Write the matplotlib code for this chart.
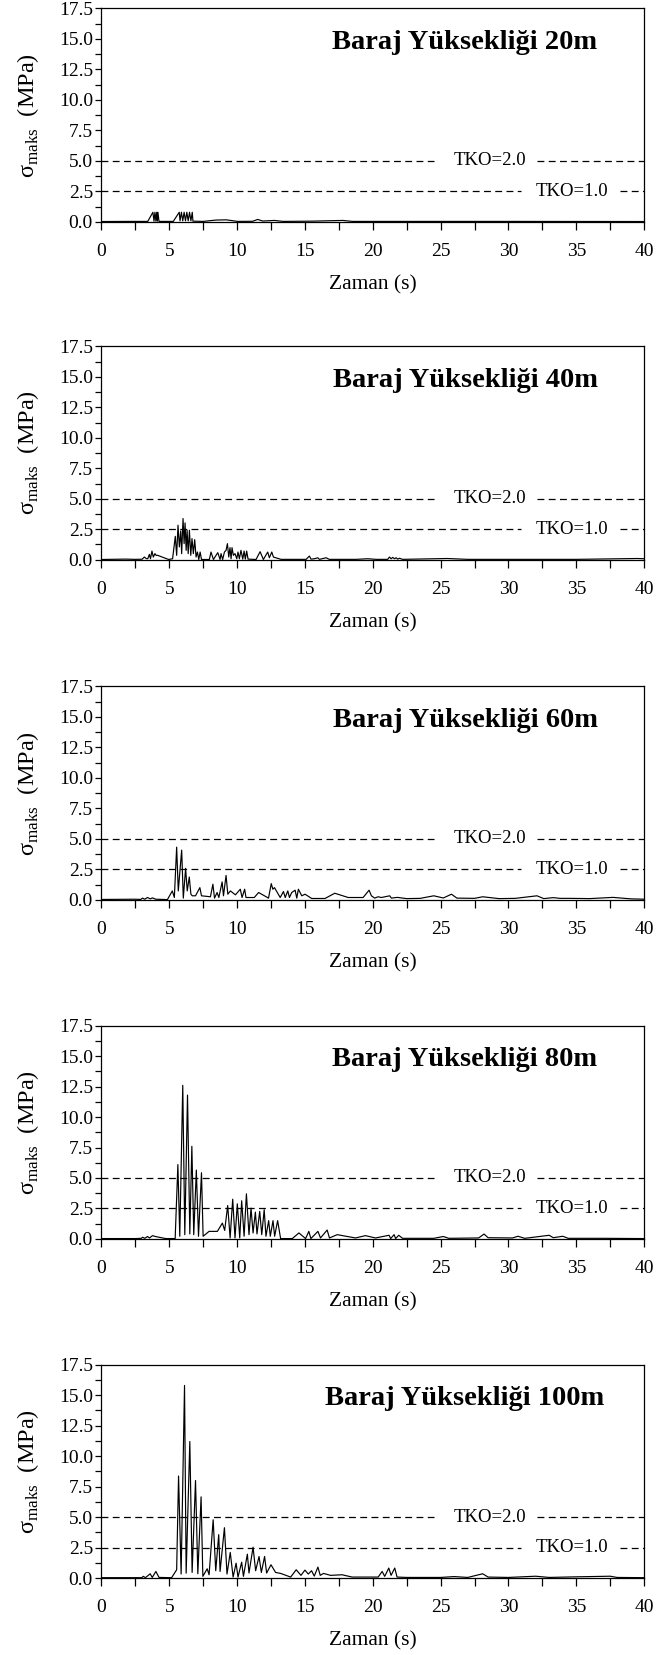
import matplotlib
matplotlib.use("Agg")
import matplotlib.pyplot as plt
from matplotlib.ticker import MultipleLocator

plt.rcParams['font.family'] = ['Liberation Serif', 'DejaVu Serif']
plt.rcParams['mathtext.fontset'] = 'custom'
plt.rcParams['mathtext.rm'] = 'Liberation Serif'

# dam heights for the five panels
heights = [20, 40, 60, 80, 100]

# time (s) / max stress (MPa) series, one pair per dam height
t20 = [0, 2, 3.42, 3.8, 3.88, 3.95, 4.02, 4.08, 4.13, 4.17, 4.25, 5.3, 5.74, 5.8, 5.9, 6.0,
       6.1, 6.2, 6.3, 6.4, 6.5, 6.6, 6.7, 6.75, 7.5, 8.45, 9.2, 10.05, 11.15, 11.52, 11.9,
       12.75, 13.4, 15.5, 17.8, 18.5, 22, 30, 40]
s20 = [0.02, 0.03, 0.03, 0.78, 0.05, 0.78, 0.05, 0.78, 0.05, 0.78, 0.03, 0.03, 0.78, 0.08,
       0.78, 0.08, 0.78, 0.08, 0.78, 0.08, 0.78, 0.08, 0.78, 0.05, 0.03, 0.14, 0.16, 0.03,
       0.04, 0.19, 0.06, 0.11, 0.03, 0.05, 0.11, 0.03, 0.03, 0.03, 0.02]

t40 = [0, 1.8, 2.5, 3.0, 3.17, 3.3, 3.42, 3.54, 3.62, 3.73, 3.83, 3.95, 4.03, 4.15, 4.96,
       5.25, 5.45, 5.55, 5.65, 5.75, 5.85, 5.92, 6.02, 6.1, 6.17, 6.25, 6.32, 6.4, 6.49,
       6.59, 6.68, 6.78, 6.88, 6.98, 7.08, 7.18, 7.28, 7.38, 7.96, 8.08, 8.26, 8.58, 8.75,
       8.82, 8.94, 9.07, 9.19, 9.29, 9.39, 9.48, 9.56, 9.63, 9.73, 9.85, 9.98, 10.07, 10.17,
       10.29, 10.42, 10.52, 10.61, 10.71, 10.81, 11.4, 11.7, 11.94, 12.26, 12.38, 12.56,
       12.68, 13.24, 15.09, 15.33, 15.45, 15.7, 15.95, 16.07, 16.56, 16.8, 18.77, 19.63,
       20.25, 21.1, 21.23, 21.35, 21.47, 21.6, 21.72, 21.84, 21.97, 22.2, 25.5, 27, 30,
       35, 39.5, 40]
s40 = [0.02, 0.05, 0.03, 0.04, 0.22, 0.1, 0.08, 0.44, 0.08, 0.71, 0.22, 0.5, 0.36, 0.36,
       0.02, 0.08, 1.92, 0.36, 2.83, 1.05, 2.36, 0.5, 3.38, 1.32, 3.02, 0.77, 2.42, 0.5,
       2.42, 0.36, 1.73, 0.5, 1.65, 0.22, 0.63, 0.02, 0.63, 0.02, 0.02, 0.63, 0.02, 0.58,
       0.02, 0.5, 0.02, 0.63, 0.77, 1.32, 0.22, 0.99, 0.08, 0.99, 0.36, 0.5, 0.08, 0.63,
       0.08, 0.77, 0.05, 0.71, 0.05, 0.71, 0.05, 0.02, 0.66, 0.02, 0.63, 0.16, 0.63, 0.22,
       0.03, 0.03, 0.3, 0.05, 0.08, 0.16, 0.03, 0.16, 0.03, 0.03, 0.08, 0.03, 0.03, 0.22,
       0.08, 0.19, 0.08, 0.16, 0.05, 0.12, 0.03, 0.1, 0.03, 0.03, 0.03, 0.1, 0.08]

t60 = [0, 2.5, 2.9, 3.03, 3.2, 3.4, 3.6, 3.77, 4.0, 4.87, 5.23, 5.38, 5.55, 5.67, 5.92,
       6.04, 6.21, 6.33, 6.48, 6.6, 6.7, 6.94, 7.26, 7.38, 8.04, 8.22, 8.34, 8.53, 8.66,
       8.9, 9.0, 9.19, 9.32, 9.51, 9.88, 10.24, 10.37, 10.56, 10.66, 11.27, 11.59, 12.32,
       12.52, 12.64, 12.76, 13.18, 13.42, 13.55, 13.74, 13.86, 14.03, 14.28, 14.4, 14.52,
       14.77, 15.01, 15.5, 16.48, 17.2, 18.19, 19.29, 19.73, 19.9, 20.14, 20.39, 20.64,
       21.25, 21.37, 21.8, 22.5, 23.5, 24.5, 25.2, 25.8, 26.2, 27.5, 28.1, 29.3, 30.5,
       32.1, 32.6, 33.3, 33.8, 34.5, 36, 37.7, 39, 40]
s60 = [0.03, 0.05, 0.03, 0.14, 0.05, 0.19, 0.08, 0.16, 0.05, 0.02, 0.73, 0.19, 4.32, 0.73,
       4.08, 0.14, 2.58, 0.73, 1.87, 0.46, 0.33, 0.33, 1.0, 0.33, 0.25, 1.28, 0.14, 0.6,
       0.19, 1.47, 0.33, 2.0, 0.46, 0.73, 0.41, 0.87, 0.19, 0.87, 0.19, 0.19, 0.6, 0.14,
       1.33, 0.87, 1.0, 0.19, 0.68, 0.19, 0.73, 0.19, 0.6, 0.79, 0.14, 0.87, 0.33, 0.46,
       0.11, 0.11, 0.54, 0.19, 0.19, 0.79, 0.33, 0.14, 0.25, 0.19, 0.33, 0.14, 0.2, 0.1,
       0.12, 0.33, 0.15, 0.46, 0.14, 0.12, 0.25, 0.1, 0.12, 0.33, 0.1, 0.18, 0.12, 0.12,
       0.1, 0.2, 0.08, 0.05]

t80 = [0, 2.5, 2.95, 3.04, 3.2, 3.4, 3.55, 3.77, 4.02, 4.75, 5.44, 5.64, 5.78, 6.0, 6.15,
       6.35, 6.52, 6.67, 6.81, 7.0, 7.16, 7.38, 7.5, 7.94, 8.55, 8.92, 9.09, 9.31, 9.49,
       9.68, 9.85, 10.02, 10.2, 10.34, 10.52, 10.69, 10.88, 11.03, 11.18, 11.35, 11.47,
       11.67, 11.82, 12.0, 12.13, 12.33, 12.45, 12.65, 12.77, 12.99, 13.21, 14.07, 14.56,
       15.05, 15.29, 15.44, 15.96, 16.15, 16.64, 16.81, 17.38, 18.73, 19.46, 20.2, 21.2,
       21.32, 21.57, 21.69, 21.91, 22.2, 24.5, 25.2, 25.6, 27.8, 28.2, 28.5, 30.3, 30.7,
       31.2, 33.0, 33.3, 34.0, 34.4, 37, 40]
s80 = [0.03, 0.03, 0.05, 0.14, 0.05, 0.2, 0.08, 0.27, 0.19, 0.03, 0.03, 6.1, 0.22, 12.6,
       0.35, 11.8, 0.41, 7.6, 0.35, 5.65, 0.22, 5.43, 0.22, 0.62, 0.62, 1.3, 0.7, 2.74,
       0.08, 3.26, 0.08, 2.88, 0.08, 3.13, 0.22, 3.7, 0.35, 2.53, 0.49, 2.2, 0.41, 2.26,
       0.35, 2.4, 0.22, 1.5, 0.22, 1.5, 0.22, 1.5, 0.03, 0.03, 0.49, 0.03, 0.62, 0.03,
       0.62, 0.08, 0.73, 0.08, 0.35, 0.08, 0.27, 0.08, 0.3, 0.03, 0.35, 0.03, 0.3, 0.05,
       0.05, 0.2, 0.05, 0.08, 0.4, 0.1, 0.08, 0.22, 0.05, 0.3, 0.1, 0.22, 0.05, 0.05, 0.03]

t100 = [0, 2.5, 2.98, 3.09, 3.25, 3.6, 3.75, 4.02, 4.25, 5.18, 5.55, 5.69, 5.88, 6.13,
        6.25, 6.52, 6.69, 6.94, 7.11, 7.35, 7.48, 7.8, 7.94, 8.24, 8.43, 8.65, 8.75, 9.07,
        9.26, 9.5, 9.71, 9.93, 10.07, 10.34, 10.47, 10.76, 10.88, 11.18, 11.37, 11.62,
        11.79, 12.03, 12.18, 12.5, 12.84, 13.21, 13.95, 14.36, 14.71, 15.0, 15.25, 15.49,
        15.69, 15.96, 16.13, 16.37, 16.89, 17.74, 18.48, 20.4, 20.69, 20.88, 21.18, 21.35,
        21.62, 21.79, 22.5, 25, 26, 27, 28.1, 28.5, 30, 32, 33, 35, 37.5, 38, 40]
s100 = [0.03, 0.03, 0.03, 0.14, 0.03, 0.35, 0.05, 0.54, 0.05, 0.03, 0.68, 8.37, 0.33,
        15.8, 0.4, 11.2, 0.46, 8.0, 0.35, 6.66, 0.14, 0.76, 0.27, 4.78, 0.6, 3.56, 0.54,
        4.13, 0.33, 2.1, 0.08, 1.22, 0.08, 1.3, 0.14, 1.96, 0.41, 2.53, 0.6, 1.77, 0.46,
        1.77, 0.41, 1.09, 0.46, 0.38, 0.08, 0.68, 0.22, 0.65, 0.33, 0.6, 0.16, 0.9, 0.22,
        0.38, 0.22, 0.27, 0.08, 0.08, 0.54, 0.14, 0.82, 0.22, 0.82, 0.08, 0.05, 0.05, 0.12,
        0.05, 0.35, 0.08, 0.05, 0.15, 0.05, 0.1, 0.15, 0.05, 0.03]

series = [(t20, s20), (t40, s40), (t60, s60), (t80, s80), (t100, s100)]

# safety factor levels and their labels
tko_levels = [5.0, 2.5]
tko_labels = ['TKO=2.0', 'TKO=1.0']
tko_text_x = [28.6, 34.7]
# line pieces left/right of each label
tko_gaps = [(24.5, 32.1), (30.9, 38.2)]

fig = plt.figure(figsize=(6.58, 16.55), dpi=100)

left, width, height = 0.154, 0.825, 0.1289
bottoms = [0.8660, 0.6618, 0.4563, 0.2514, 0.0465]

for (t, s), h, b in zip(series, heights, bottoms):
    ax = fig.add_axes([left, b, width, height])
    ax.plot(t, s, color='black', lw=0.85)

    for lvl, lab, tx, (g0, g1) in zip(tko_levels, tko_labels, tko_text_x, tko_gaps):
        ax.plot([0, g0], [lvl, lvl], color='black', lw=0.9, ls=(0, (5.5, 3.5)))
        ax.plot([g1, 40], [lvl, lvl], color='black', lw=0.9, ls=(0, (5.5, 3.5)))
        ax.text(tx, lvl, lab, ha='center', va='center', fontsize=13.5)

    ax.text(26.8, 14.7, f'Baraj Yüksekliği {h}m', ha='center', va='center',
            fontsize=20.5, fontweight='bold')

    ax.set_xlim(0, 40)
    ax.set_ylim(0, 17.5)
    ax.xaxis.set_major_locator(MultipleLocator(5))
    ax.xaxis.set_minor_locator(MultipleLocator(2.5))
    ax.yaxis.set_major_locator(MultipleLocator(2.5))
    ax.yaxis.set_minor_locator(MultipleLocator(1.25))
    ax.yaxis.set_major_formatter(lambda v, p: f'{v:.1f}')
    ax.tick_params(axis='x', which='both', direction='out', length=6, width=0.9,
                   pad=9, labelsize=14)
    ax.tick_params(axis='y', which='both', direction='out', length=4.5, width=0.9,
                   pad=1.5, labelsize=14)
    for sp in ax.spines.values():
        sp.set_linewidth(0.9)

    ax.set_xlabel('Zaman (s)', fontsize=15.5, labelpad=11)
    ax.set_ylabel(r'σ$_{\mathrm{maks}}$  (MPa)', fontsize=17.5)
    ax.yaxis.set_label_coords(-0.112, 0.5)

fig.savefig('out.png', dpi=100)
